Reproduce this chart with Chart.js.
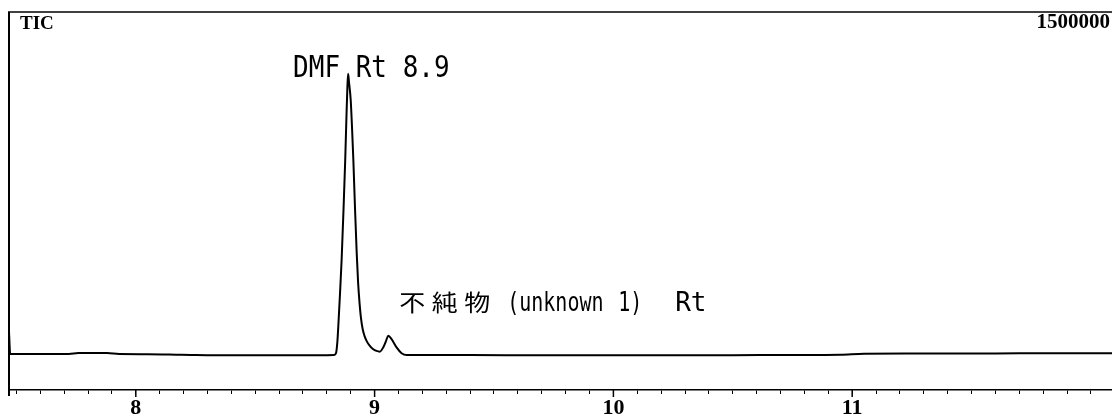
<!DOCTYPE html>
<html>
<head>
<meta charset="utf-8">
<script src="https://cdn.jsdelivr.net/npm/chart.js@4.4.0/dist/chart.umd.min.js"></script>
<style>
  html, body { margin: 0; padding: 0; background: #fff; }
  #wrap { width: 1112px; height: 419px; }
</style>
</head>
<body>
<div id="wrap"><canvas id="tic"></canvas></div>
<script>
// retention time (min) and TIC counts
const times = [
  7.469, 7.474, 7.48, 7.60, 7.72, 7.76, 7.88, 7.93, 8.05, 8.19, 8.40, 8.60, 8.78,
  8.830, 8.838, 8.844, 8.848, 8.855, 8.862, 8.870, 8.877, 8.882, 8.886, 8.889,
  8.893, 8.900, 8.906, 8.911, 8.918, 8.925, 8.931, 8.937, 8.943, 8.950, 8.958,
  8.968, 8.980, 8.993, 9.008, 9.022, 9.036, 9.048, 9.057, 9.071, 9.092, 9.113,
  9.134, 9.40, 9.70, 10.00, 10.30, 10.50, 10.75, 10.95, 11.05, 11.30, 11.60, 11.85, 12.088
];
const intensity = [
  233000, 142500, 142500, 142500, 143000, 146500, 146500, 142500, 142000, 140000, 137500, 137500, 137500,
  139000, 145000, 190000, 253000, 380000, 518000, 720000, 914000, 1080000, 1200000, 1255000,
  1220000, 1150000, 1030000, 914000, 720000, 545000, 425000, 345000, 285000, 242000, 214000,
  192000, 175000, 163000, 155000, 152000, 169000, 195000, 215000, 202000, 169000, 146000,
  138500, 138500, 138000, 138000, 137500, 138000, 139000, 140000, 144000, 144500, 145000, 146000, 146000
];
const majorTicks = [8, 9, 10, 11];
const xMin = 7.469;
const xMax = 12.088;
const yMax = 1500000;
const traceName = "TIC";
const mainPeakTime = 8.889;
const impurityPeakTime = 9.057;

function textAt(ctx, str, x, y, font, sy) {
  ctx.save();
  ctx.translate(x, y);
  ctx.scale(1, sy);
  ctx.font = font;
  ctx.textBaseline = "alphabetic";
  ctx.textAlign = "left";
  ctx.fillText(str, 0, 0);
  ctx.restore();
}

const framePlugin = {
  id: "frame",
  afterDraw(chart) {
    const { ctx, chartArea, scales } = chart;
    const xs = scales.x, ys = scales.y;
    ctx.save();
    ctx.strokeStyle = "#000";
    ctx.fillStyle = "#000";

    // top and left border
    ctx.lineWidth = 1.5;
    ctx.beginPath();
    ctx.moveTo(chartArea.left - 1, chartArea.top);
    ctx.lineTo(chart.width, chartArea.top);
    ctx.stroke();
    ctx.lineWidth = 2;
    ctx.beginPath();
    ctx.moveTo(chartArea.left, chartArea.top);
    ctx.lineTo(chartArea.left, chartArea.bottom + 6);
    ctx.stroke();

    // longer marks at whole minutes
    ctx.lineWidth = 1.5;
    majorTicks.forEach(v => {
      const px = xs.getPixelForValue(v);
      ctx.beginPath();
      ctx.moveTo(px, chartArea.bottom);
      ctx.lineTo(px, chartArea.bottom + 7);
      ctx.stroke();
    });

    ctx.font = 'bold 19px "Liberation Serif"';
    ctx.textAlign = "left";
    ctx.textBaseline = "alphabetic";
    ctx.fillText(traceName, chartArea.left + 11, chartArea.top + 17);
    ctx.font = 'bold 21px "Liberation Serif"';
    ctx.textAlign = "right";
    ctx.fillText(String(yMax), chart.width - 2, chartArea.top + 16);

    // peak annotations
    const px1 = xs.getPixelForValue(mainPeakTime);
    const py1 = ys.getPixelForValue(1255000);
    textAt(ctx, "DMF Rt 8.9", px1 - 55, py1 + 3, '26px "DejaVu Sans Mono"', 1.15);

    const px2 = xs.getPixelForValue(impurityPeakTime);
    const py2 = ys.getPixelForValue(215000);
    const base2 = py2 - 25;
    const kanji = ["不", "純", "物"];
    kanji.forEach((k, i) => {
      textAt(ctx, k, px2 + 11 + i * 32.5, base2, '26px "Noto Sans CJK JP"', 0.88);
    });
    textAt(ctx, "(unknown", px2 + 119, base2, '20px "DejaVu Sans Mono"', 1.35);
    textAt(ctx, "1)", px2 + 230, base2, '20px "DejaVu Sans Mono"', 1.35);
    textAt(ctx, "Rt", px2 + 287, base2, '26px "DejaVu Sans Mono"', 1.0);
    ctx.restore();
  }
};

new Chart(document.getElementById("tic"), {
  type: "line",
  data: {
    datasets: [{
      label: traceName,
      data: times.map((t, i) => ({ x: t, y: intensity[i] })),
      borderColor: "#000",
      borderWidth: 2,
      pointRadius: 0,
      fill: false,
      cubicInterpolationMode: "monotone"
    }]
  },
  options: {
    responsive: true,
    maintainAspectRatio: false,
    animation: false,
    devicePixelRatio: 1,
    layout: { padding: { left: 9, top: 12, right: 0, bottom: -3 } },
    plugins: { legend: { display: false }, tooltip: { enabled: false } },
    scales: {
      x: {
        type: "linear",
        min: xMin,
        max: xMax,
        afterBuildTicks: scale => {
          const t = [];
          for (let k = 75; k <= 120; k++) t.push({ value: k / 10 });
          scale.ticks = t;
        },
        grid: { drawOnChartArea: false, drawTicks: true, tickLength: 4, color: "#000", lineWidth: 1 },
        border: { display: true, color: "#000", width: 1.5 },
        ticks: {
          autoSkip: false,
          maxRotation: 0,
          padding: 3,
          color: "#000",
          font: { family: "Liberation Serif", weight: "bold", size: 22, lineHeight: 1 },
          callback: v => majorTicks.includes(Math.round(v * 10) / 10) ? String(Math.round(v)) : ""
        }
      },
      y: {
        display: false,
        min: 0,
        max: yMax
      }
    }
  },
  plugins: [framePlugin]
});
</script>
</body>
</html>
